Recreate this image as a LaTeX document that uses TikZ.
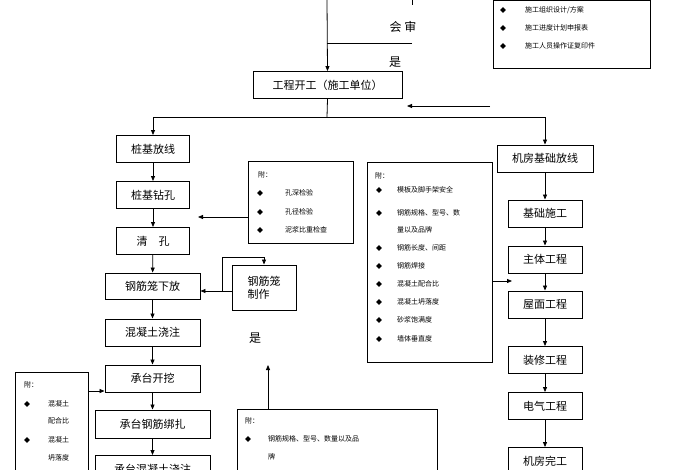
\documentclass[tikz,border=0pt]{standalone}
\usepackage{fontspec}
\setmainfont{Noto Sans CJK SC}
\usetikzlibrary{arrows.meta}
\tikzset{
  stepbox/.style={draw, line width=0.9pt, minimum height=27pt, inner sep=1pt, font=\fontsize{11}{13}\selectfont},
  notebox/.style={draw, line width=0.9pt, anchor=north west},
  notetext/.style={anchor=west, inner sep=0pt, font=\fontsize{7}{8}\selectfont},
  dot/.style={anchor=center, inner sep=0pt, font=\fontsize{7}{8}\selectfont},
  flow/.style={line width=0.8pt, -{Triangle[length=5pt,width=4pt]}},
  plain/.style={line width=0.8pt}
}
\newcommand{\bul}{\raisebox{0pt}{\scalebox{0.8}{\rotatebox{45}{\rule{5pt}{5pt}}}}}
\begin{document}
\begin{tikzpicture}[x=1pt,y=-1pt]
  \useasboundingbox (0,0) rectangle (700,470);

  % top review part
  \coordinate (rvtop) at (327,0);
  \coordinate (rvcorner) at (327,43);
  \coordinate (rvright) at (412,43);
  \coordinate (rvrtop) at (412,0);
  \draw[plain] (rvrtop) -- ++(0,5);
  \draw[plain] (rvright) -- (rvcorner);
  \node[font=\fontsize{12}{14}\selectfont] (hs) at (403,27) {会\ 审};
  \node[font=\fontsize{12}{14}\selectfont] (shi1) at (395,62) {是};

  \node[notebox, minimum width=157pt, minimum height=68pt] (docs) at (493,0) {};
  \foreach \y/\t in {10/{施工组织设计/方案}, 28/施工进度计划申报表, 46/施工人员操作证复印件} {
    \node[dot] at (503,\y) {\bul};
    \node[notetext] at (525,\y) {\t};
  }

  \node[stepbox, minimum width=149pt] (kg) at (327.5,85) {工程开工（施工单位）};
  \draw[flow] (rvtop) -- (kg.north);
  \coordinate (docin) at (490,106);
  \draw[flow] (docin) -- (407,106);

  % left column
  \node[stepbox, minimum width=73pt] (zjfx) at (153,149) {桩基放线};
  \node[stepbox, minimum width=73pt] (zjzk) at (153,195) {桩基钻孔};
  \node[stepbox, minimum width=73pt] (qk) at (153,241) {清\quad 孔};
  \node[stepbox, minimum width=95pt, minimum height=26pt] (xf) at (152.5,286) {钢筋笼下放};
  \node[stepbox, minimum width=95pt] (jz) at (152.5,332.5) {混凝土浇注};
  \node[stepbox, minimum width=95pt] (kw) at (152.5,378.5) {承台开挖};
  \node[stepbox, minimum width=115pt, minimum height=28pt] (bz) at (152.5,424) {承台钢筋绑扎};
  \node[stepbox, minimum width=115pt, minimum height=28pt, anchor=north] (tjz) at (152.5,455) {承台混凝土浇注};

  % right column
  \node[stepbox, minimum width=96pt] (jffx) at (545,158.5) {机房基础放线};
  \node[stepbox, minimum width=74pt] (jcsg) at (545,213.5) {基础施工};
  \node[stepbox, minimum width=74pt] (ztgc) at (545,259.5) {主体工程};
  \node[stepbox, minimum width=74pt] (wmgc) at (545,304.5) {屋面工程};
  \node[stepbox, minimum width=74pt] (zxgc) at (545,360) {装修工程};
  \node[stepbox, minimum width=74pt] (dqgc) at (545,406) {电气工程};
  \node[stepbox, minimum width=74pt] (jfwg) at (545,461) {机房完工};

  \coordinate (split) at (327,117);
  \draw[plain] (kg.south) -- (split);
  \draw[flow] (split) -| (zjfx.north);
  \draw[flow] (split) -| (jffx.north);

  \foreach \a/\b in {zjfx/zjzk, zjzk/qk, qk/xf, xf/jz, jz/kw, kw/bz, bz/tjz,
                     jffx/jcsg, jcsg/ztgc, ztgc/wmgc, wmgc/zxgc, zxgc/dqgc, dqgc/jfwg}
    \draw[flow] (\a) -- (\b);

  % hole checks
  \node[notebox, minimum width=105pt, minimum height=82pt] (kjc) at (248,161) {};
  \node[notetext] at (258,175) {附：};
  \foreach \y/\t in {193/孔深检验, 212/孔径检验, 230/泥浆比重检查} {
    \node[dot] at (260,\y) {\bul};
    \node[notetext] at (285,\y) {\t};
  }
  \draw[flow] (kjc.west |- 0,217) -- (198,217);

  % cage making
  \node[stepbox, minimum width=64pt, minimum height=45pt, align=left] (zz) at (264,287.5) {钢筋笼\\制作};
  \coordinate (loop) at (222,291);
  \draw[flow] (zz.west |- loop) -- (xf.east |- loop);
  \draw[flow] (loop) |- (264,257) -- (zz.north);

  \node[font=\fontsize{12}{14}\selectfont] (shi2) at (255,338) {是};

  % quality items
  \node[notebox, minimum width=125pt, minimum height=200pt] (zl) at (367,162) {};
  \node[notetext] at (375,176) {附：};
  \foreach \y/\t in {190/模板及脚手架安全, 213/钢筋规格、型号、数, 248/钢筋长度、间距, 266/钢筋焊接,
                     284/混凝土配合比, 302/混凝土坍落度, 320/砂浆饱满度, 339/墙体垂直度} {
    \node[dot] at (379,\y) {\bul};
    \node[notetext] at (397,\y) {\t};
  }
  \node[notetext] at (397,230) {量以及品牌};
  \coordinate (brmid) at (492,281);
  \draw[flow] (brmid) -- (512,281);

  % concrete items
  \node[notebox, minimum width=73pt, minimum height=110pt] (hnt) at (15,372) {};
  \node[notetext] at (24,385) {附：};
  \node[dot] at (27,404) {\bul};
  \node[notetext] at (48,404) {混凝土};
  \node[notetext] at (48,421) {配合比};
  \node[dot] at (27,440) {\bul};
  \node[notetext] at (48,440) {混凝土};
  \node[notetext] at (48,458) {坍落度};
  \draw[flow] (hnt.east |- 0,391) -- (kw.west |- 0,391);

  % rebar items
  \node[notebox, minimum width=200pt, minimum height=80pt] (gj) at (237,409) {};
  \node[notetext] at (245,421) {附：};
  \node[dot] at (248,439) {\bul};
  \node[notetext] at (268,439) {钢筋规格、型号、数量以及品};
  \node[notetext] at (268,457) {牌};
  \draw[flow] (gj.north -| 268,0) -- (268,365);
\end{tikzpicture}
\end{document}
